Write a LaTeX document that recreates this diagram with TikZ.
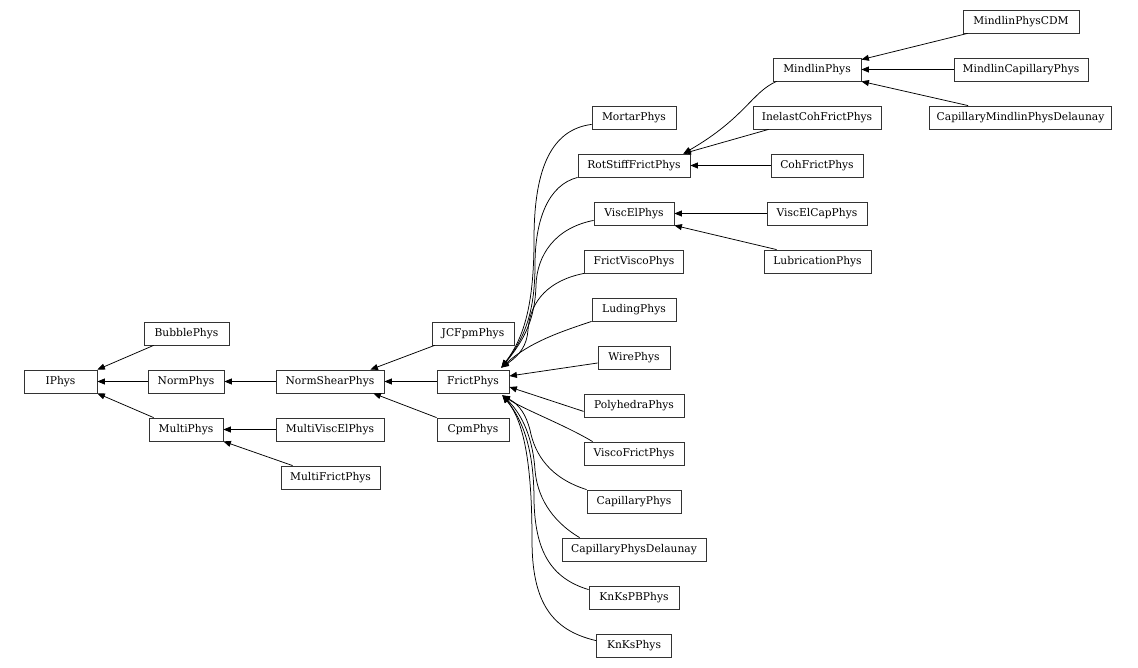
\documentclass[tikz,border=0pt]{standalone}
\usepackage{fontspec}
\setmainfont{DejaVu Serif}
\usetikzlibrary{arrows.meta}
\tikzset{
  box/.style={draw=black!80, line width=0.8pt, rectangle, minimum height=23pt, inner xsep=4pt, inner ysep=0pt, font=\fontsize{10.7}{12}\selectfont},
  arr/.style={draw=black, line width=0.75pt, -{Triangle[length=7.5pt,width=6pt]}}
}
\begin{document}
\begin{tikzpicture}[x=1pt,y=-1pt]
\useasboundingbox (0,0) rectangle (1138,668);
% nodes
\node[box,minimum width=73] (iphys) at (60.5,381.5) {IPhys};
\node[box,minimum width=85] (bubble) at (186.5,333.5) {BubblePhys};
\node[box,minimum width=76] (norm) at (186,381.5) {NormPhys};
\node[box,minimum width=74] (multi) at (186,429.5) {MultiPhys};
\node[box,minimum width=108] (normshear) at (330,381.5) {NormShearPhys};
\node[box,minimum width=108] (multivisc) at (330,429.5) {MultiViscElPhys};
\node[box,minimum width=99] (multifrict) at (330.5,477.5) {MultiFrictPhys};
\node[box,minimum width=82] (jcfpm) at (473,333.5) {JCFpmPhys};
\node[box,minimum width=72] (frict) at (473,381.5) {FrictPhys};
\node[box,minimum width=72] (cpm) at (473,429.5) {CpmPhys};
\node[box,minimum width=84] (mortar) at (634,117.5) {MortarPhys};
\node[box,minimum width=112] (rotstiff) at (634,165.5) {RotStiffFrictPhys};
\node[box,minimum width=80] (viscel) at (634,213.5) {ViscElPhys};
\node[box,minimum width=99] (frictvisco) at (634,261.5) {FrictViscoPhys};
\node[box,minimum width=84] (luding) at (634,309.5) {LudingPhys};
\node[box,minimum width=72] (wire) at (634,357.5) {WirePhys};
\node[box,minimum width=100] (polyhedra) at (634,405.5) {PolyhedraPhys};
\node[box,minimum width=100] (viscofrict) at (634,453.5) {ViscoFrictPhys};
\node[box,minimum width=94] (capillary) at (634,501.5) {CapillaryPhys};
\node[box,minimum width=144] (capdel) at (634,549.5) {CapillaryPhysDelaunay};
\node[box,minimum width=90] (knkspb) at (634,597.5) {KnKsPBPhys};
\node[box,minimum width=75] (knks) at (634,645.5) {KnKsPhys};
\node[box,minimum width=88] (mindlin) at (817,69.5) {MindlinPhys};
\node[box,minimum width=128] (inelast) at (817,117.5) {InelastCohFrictPhys};
\node[box,minimum width=92] (cohfrict) at (817,165.5) {CohFrictPhys};
\node[box,minimum width=100] (viscelcap) at (817,213.5) {ViscElCapPhys};
\node[box,minimum width=107] (lubrication) at (817.5,261.5) {LubricationPhys};
\node[box,minimum width=116] (mindlincdm) at (1021,21.5) {MindlinPhysCDM};
\node[box,minimum width=134] (mindlincap) at (1021,69.5) {MindlinCapillaryPhys};
\node[box,minimum width=182] (capmindlin) at (1020.5,117.5) {CapillaryMindlinPhysDelaunay};
% arrow tip points on FrictPhys
\coordinate (ft) at ([xshift=-8pt,yshift=2pt]frict.north east);
\coordinate (fb) at ([xshift=-7pt,yshift=-2pt]frict.south east);
% straight edges
\draw[arr] ([xshift=10pt]bubble.south west) -- (iphys.north east);
\draw[arr] (norm.west) -- (iphys.east);
\draw[arr] ([xshift=5pt]multi.north west) -- (iphys.south east);
\draw[arr] (normshear.west) -- (norm.east);
\draw[arr] (multivisc.west) -- (multi.east);
\draw[arr] ([xshift=12pt]multifrict.north west) -- (multi.south east);
\draw[arr] ([xshift=3pt]jcfpm.south west) -- ([xshift=-14pt]normshear.north east);
\draw[arr] (frict.west) -- (normshear.east);
\draw[arr] (cpm.north west) -- ([xshift=-11pt]normshear.south east);
\draw[arr] ([yshift=-5.5pt]wire.west) -- ([yshift=5.5pt]frict.east);
\draw[arr] ([yshift=6pt]polyhedra.south west) -- ([yshift=-5.5pt]frict.east);
\draw[arr] ([xshift=5pt]mindlincdm.south west) -- ([yshift=-2pt]mindlin.north east);
\draw[arr] (mindlincap.west) -- (mindlin.east);
\draw[arr] ([xshift=39pt]capmindlin.north west) -- (mindlin.south east);
\draw[arr] ([xshift=16pt]inelast.south west) -- ([xshift=-7pt]rotstiff.north east);
\draw[arr] (cohfrict.west) -- (rotstiff.east);
\draw[arr] (viscelcap.west) -- (viscel.east);
\draw[arr] ([xshift=13pt]lubrication.north west) -- (viscel.south east);
% curved edges
\draw[arr] ([xshift=4pt]mindlin.south west) .. controls (752,92) and (745,118) .. ([xshift=-7pt]rotstiff.north east);
\draw[arr] ([yshift=5pt]mortar.south west) .. controls (548,130) and (534,175) .. (534,240) .. controls (534,310) and (522,340) .. (ft);
\draw[arr] (rotstiff.south west) .. controls (548,185) and (535,220) .. (535,265) .. controls (535,315) and (523,340) .. (ft);
\draw[arr] ([yshift=5pt]viscel.south west) .. controls (555,228) and (537,255) .. (536,285) .. controls (535,320) and (524,340) .. (ft);
\draw[arr] (frictvisco.south west) .. controls (550,280) and (530,300) .. (528,330) .. controls (527,345) and (520,355) .. (ft);
\draw[arr] (luding.south west) .. controls (560,332) and (530,342) .. (ft);
\draw[arr] ([xshift=9pt]viscofrict.north west) .. controls (565,425) and (525,410) .. (fb);
\draw[arr] (capillary.north west) .. controls (550,478) and (535,455) .. (530,430) .. controls (526,415) and (520,405) .. (fb);
\draw[arr] ([xshift=18pt]capdel.north west) .. controls (550,520) and (537,495) .. (535,470) .. controls (533,440) and (523,415) .. (fb);
\draw[arr] ([yshift=-4pt]knkspb.north west) .. controls (550,578) and (535,550) .. (534,500) .. controls (534,450) and (523,420) .. (fb);
\draw[arr] ([yshift=-7pt]knks.north west) .. controls (550,630) and (532,600) .. (532,540) .. controls (532,460) and (523,420) .. (fb);
\end{tikzpicture}
\end{document}
